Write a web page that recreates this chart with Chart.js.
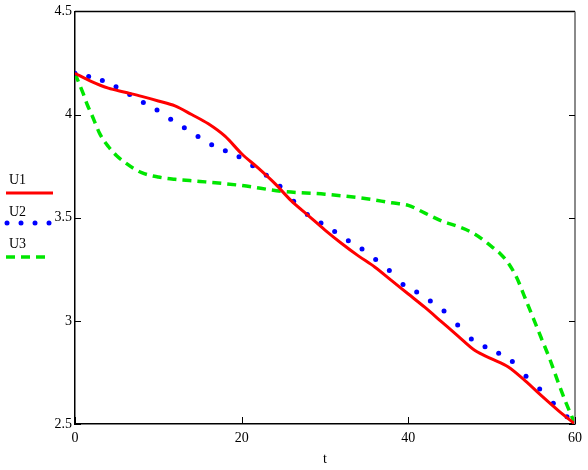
<!DOCTYPE html>
<html>
<head>
<meta charset="utf-8">
<script src="https://cdn.jsdelivr.net/npm/chart.js@4"></script>
<style>
html,body{margin:0;padding:0;background:#fff;}
#wrap{width:588px;height:470px;}
</style>
</head>
<body>
<div id="wrap"><canvas id="c" width="588" height="470"></canvas></div>
<script>
// ---- data ----
const xTicks = [0, 20, 40, 60];
const yTicks = [2.5, 3, 3.5, 4, 4.5];

const u1T = [0,2,4,6,8,10,12,14,16,18,20,22,24,26,28,30,32,34,36,38,40,42,44,46,48,50,52,54,56,58,60];
const u1V = [4.2,4.16,4.128,4.108,4.088,4.066,4.042,4.0,3.955,3.895,3.81,3.74,3.665,3.58,3.51,3.44,3.375,3.315,3.26,3.195,3.13,3.065,2.995,2.925,2.856,2.816,2.776,2.71,2.636,2.565,2.5];

const u2T = [0,1.64,3.28,4.92,6.56,8.2,9.84,11.48,13.12,14.76,16.4,18.04,19.68,21.32,22.96,24.6,26.24,27.88,29.52,31.16,32.8,34.44,36.08,37.72,39.36,41.0,42.64,44.28,45.92,47.56,49.2,50.84,52.48,54.12,55.76,57.4,59.04];
const u2V = [4.2,4.185,4.165,4.135,4.097,4.058,4.022,3.977,3.936,3.894,3.854,3.824,3.796,3.752,3.706,3.652,3.58,3.516,3.474,3.433,3.388,3.348,3.297,3.244,3.176,3.14,3.096,3.048,2.98,2.912,2.875,2.843,2.803,2.732,2.67,2.6,2.535];

const u3T = [0,0.5,1,1.5,2,3,4,5,6,7,8,10,12,15,20,25,30,35,38,40,42,44,46,48,50,51,52,53,54,55,56,57,58,59,60];
const u3V = [4.2,4.15,4.1,4.045,4.0,3.905,3.845,3.8,3.768,3.74,3.718,3.697,3.686,3.676,3.656,3.627,3.614,3.592,3.572,3.56,3.522,3.484,3.457,3.42,3.36,3.327,3.28,3.21,3.112,3.012,2.912,2.812,2.70,2.595,2.5];

const seriesNames = ['U1', 'U2', 'U3'];
const xTitle = 't';

const pts = (t, v) => t.map((x, i) => ({x: x, y: v[i]}));

const RED = '#ff0000', BLUE = '#0000ff', GREEN = '#00e600';
const FONT = '"Liberation Serif", "Times New Roman", serif';

const framePlugin = {
  id: 'frame',
  afterDraw(chart) {
    const ctx = chart.ctx;
    const a = chart.chartArea;
    const xs = chart.scales.x, ys = chart.scales.y;
    ctx.save();
    // top border
    ctx.strokeStyle = '#000';
    ctx.lineWidth = 1.5;
    ctx.beginPath();
    ctx.moveTo(a.left, a.top); ctx.lineTo(a.right, a.top);
    ctx.stroke();
    // right border (grey)
    ctx.strokeStyle = '#8a8a8a';
    ctx.lineWidth = 2;
    ctx.beginPath();
    ctx.moveTo(a.right, a.top); ctx.lineTo(a.right, a.bottom);
    ctx.stroke();
    // inner ticks
    ctx.strokeStyle = '#000';
    ctx.lineWidth = 1;
    ys.ticks.forEach(tk => {
      const y = Math.round(ys.getPixelForValue(tk.value)) + 0.5;
      ctx.beginPath();
      ctx.moveTo(a.left, y); ctx.lineTo(a.left + 6, y);
      ctx.moveTo(a.right, y); ctx.lineTo(a.right - 6, y);
      ctx.stroke();
    });
    xs.ticks.forEach(tk => {
      const x = Math.round(xs.getPixelForValue(tk.value)) + 0.5;
      ctx.beginPath();
      ctx.moveTo(x, a.bottom); ctx.lineTo(x, a.bottom - 7);
      ctx.stroke();
    });
    // legend on the left
    ctx.fillStyle = '#000';
    ctx.font = '14px ' + FONT;
    ctx.textAlign = 'left';
    ctx.textBaseline = 'alphabetic';
    ctx.fillText(seriesNames[0], 9, 184);
    ctx.fillText(seriesNames[1], 9, 216);
    ctx.fillText(seriesNames[2], 9, 248);
    ctx.strokeStyle = RED; ctx.lineWidth = 3;
    ctx.beginPath(); ctx.moveTo(6, 193); ctx.lineTo(53, 193); ctx.stroke();
    ctx.fillStyle = BLUE;
    [7, 21, 35, 49].forEach(x => { ctx.beginPath(); ctx.arc(x, 223, 2.5, 0, Math.PI * 2); ctx.fill(); });
    ctx.strokeStyle = GREEN; ctx.lineWidth = 3.5; ctx.setLineDash([9, 6]);
    ctx.beginPath(); ctx.moveTo(6, 257); ctx.lineTo(46, 257); ctx.stroke();
    ctx.restore();
  }
};

new Chart(document.getElementById('c'), {
  type: 'scatter',
  data: {
    datasets: [
      { label: seriesNames[0], data: pts(u1T, u1V), showLine: true, borderColor: RED, borderWidth: 3,
        pointRadius: 0, cubicInterpolationMode: 'monotone', order: 1 },
      { label: seriesNames[1], data: pts(u2T, u2V), showLine: false, pointRadius: 2.5,
        pointBackgroundColor: BLUE, pointBorderWidth: 0, backgroundColor: BLUE, order: 2 },
      { label: seriesNames[2], data: pts(u3T, u3V), showLine: true, borderColor: GREEN, borderWidth: 3.5,
        borderDash: [9, 6], pointRadius: 0, cubicInterpolationMode: 'monotone', order: 3 }
    ]
  },
  options: {
    responsive: false,
    animation: false,
    devicePixelRatio: 1,
    layout: { padding: { left: 0, right: 11, top: 8, bottom: 0 } },
    plugins: { legend: { display: false }, tooltip: { enabled: false } },
    scales: {
      x: {
        type: 'linear', min: 0, max: 60,
        afterBuildTicks: s => { s.ticks = xTicks.map(v => ({value: v})); },
        afterFit: s => { s.height = 46; },
        grid: { display: false, drawTicks: false },
        border: { display: true, color: '#000', width: 1.5 },
        ticks: { padding: 6, color: '#000', font: { family: FONT, size: 14 }, maxRotation: 0,
                 callback: v => String(v) },
        title: { display: true, text: xTitle, color: '#000', font: { family: FONT, size: 14 }, padding: { top: 0, bottom: 2 } }
      },
      y: {
        type: 'linear', min: 2.5, max: 4.5,
        afterBuildTicks: s => { s.ticks = yTicks.map(v => ({value: v})); },
        afterFit: s => { s.width = 75; },
        grid: { display: false, drawTicks: false },
        border: { display: true, color: '#000', width: 1.5 },
        ticks: { padding: 3, color: '#000', font: { family: FONT, size: 14 },
                 callback: v => String(v) }
      }
    }
  },
  plugins: [framePlugin]
});
</script>
</body>
</html>
